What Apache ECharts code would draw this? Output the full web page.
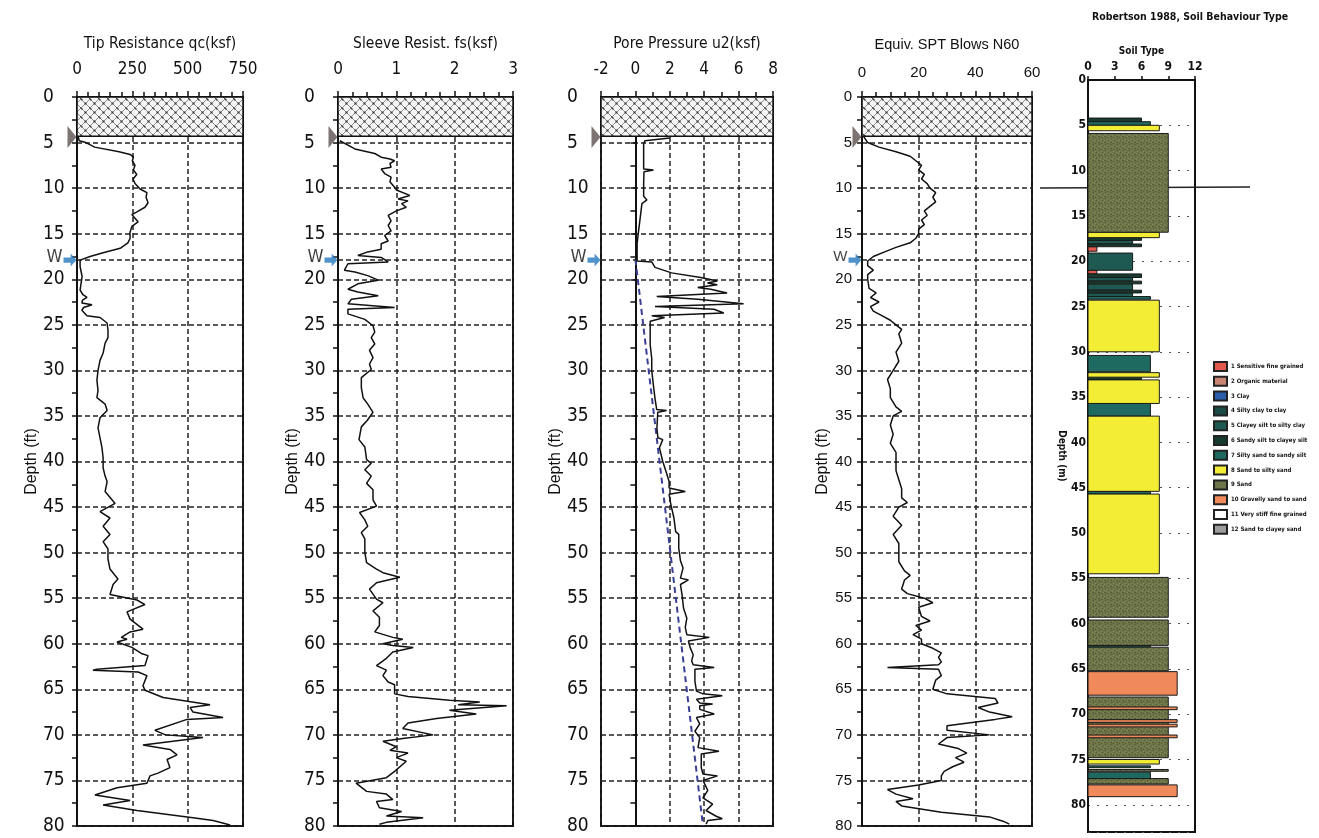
<!DOCTYPE html>
<html>
<head>
<meta charset="utf-8">
<script src="https://cdn.jsdelivr.net/npm/echarts@6/dist/echarts.min.js"></script>
<style>
  html, body { margin: 0; padding: 0; background: #fff; }
  #chart { width: 1319px; height: 838px; }
</style>
</head>
<body>
<div id="chart"></div>
<script>
// CPT log: four depth profiles + Robertson soil behaviour type column

// [depth ft, qc ksf]
var tipResistance = [
  [4.3, 5], [4.8, 10], [5.0, 40], [5.5, 80], [6.0, 190], [6.3, 240], [6.6, 255], [7.0, 250], [7.5, 262],
  [8.0, 255], [8.5, 270], [9.0, 253], [9.5, 262], [10.1, 285], [10.5, 316], [11.0, 312], [11.6, 321],
  [12.1, 307], [12.6, 271], [12.9, 248], [13.3, 262], [13.7, 276], [14.2, 248], [14.9, 239], [15.5, 240],
  [16.0, 230], [16.6, 195], [17.1, 118], [17.5, 59], [17.9, 14], [18.6, 14], [19.7, 23], [20.5, 18],
  [21.2, 14], [21.7, 27], [22.0, 45], [22.3, 25], [22.6, 22], [22.8, 68], [23.1, 30], [23.4, 22],
  [24.0, 45], [24.2, 104], [24.8, 136], [25.6, 140], [26.4, 140], [27.0, 127], [28.1, 118], [28.9, 104],
  [30.0, 95], [31.1, 90], [32.2, 95], [33.0, 90], [33.7, 127], [34.4, 136], [35.2, 104], [36.3, 95],
  [37.4, 104], [38.5, 113], [39.6, 118], [40.7, 118], [41.6, 127], [42.2, 136], [43.3, 127], [44.6, 172],
  [45.5, 104], [46.2, 149], [47.1, 118], [48.0, 149], [48.8, 118], [49.6, 140], [50.7, 140], [51.8, 149],
  [52.9, 185], [53.5, 163], [54.6, 149], [55.2, 271], [55.7, 307], [56.5, 226], [57.3, 240], [58.4, 298],
  [58.7, 240], [59.3, 200], [59.5, 226], [59.8, 181], [60.4, 248], [61.1, 294], [61.3, 321], [62.4, 307],
  [62.8, 90], [62.9, 72], [63.1, 276], [63.5, 316], [64.6, 298], [65.1, 307], [65.9, 389], [66.7, 601],
  [67.0, 511], [67.5, 524], [68.1, 660], [68.3, 497], [69.5, 352], [70.0, 400], [70.3, 569], [71.1, 298],
  [71.6, 420], [72.2, 452], [72.7, 407], [73.6, 420], [74.2, 366], [74.5, 330], [75.3, 316], [75.8, 181],
  [76.6, 81], [77.2, 240], [77.7, 118], [78.3, 271], [79.1, 524], [79.4, 615], [79.9, 692]
];

// [depth ft, fs ksf]
var sleeveResistance = [
  [4.8, 0.03], [5.7, 0.29], [6.2, 0.63], [6.6, 0.74], [6.8, 0.89], [7.0, 0.97], [7.3, 0.89], [7.7, 0.91],
  [7.9, 0.74], [8.4, 0.8], [8.8, 0.91], [9.3, 0.89], [9.9, 0.97], [10.2, 1.0], [10.8, 1.23], [11.2, 1.03],
  [11.4, 1.2], [11.7, 1.09], [12.1, 1.17], [12.5, 1.0], [13.0, 0.86], [13.6, 0.91], [14.1, 0.86],
  [14.7, 0.91], [15.2, 0.8], [15.8, 0.86], [16.1, 0.74], [16.7, 0.74], [17.0, 0.51], [17.4, 0.34],
  [17.6, 0.74], [18.1, 0.86], [18.3, 0.17], [19.0, 0.11], [19.2, 0.29], [19.6, 0.51], [20.1, 0.69],
  [20.5, 0.34], [21.1, 0.17], [21.4, 0.34], [21.8, 0.69], [22.2, 0.23], [22.7, 0.17], [23.1, 0.97],
  [23.3, 0.17], [23.8, 0.17], [24.4, 0.46], [25.1, 0.6], [25.8, 0.63], [26.4, 0.57], [27.1, 0.63],
  [27.8, 0.54], [28.6, 0.6], [29.3, 0.54], [29.9, 0.57], [30.8, 0.4], [31.9, 0.4], [33.0, 0.43],
  [33.7, 0.51], [34.6, 0.6], [35.5, 0.5], [36.2, 0.4], [37.6, 0.36], [38.4, 0.46], [39.8, 0.49],
  [40.2, 0.57], [40.9, 0.46], [41.6, 0.57], [42.4, 0.49], [43.1, 0.6], [44.2, 0.6], [44.9, 0.66],
  [45.6, 0.37], [46.4, 0.46], [47.1, 0.51], [47.8, 0.4], [48.5, 0.46], [50.0, 0.46], [51.1, 0.49],
  [51.8, 0.66], [52.2, 0.77], [52.7, 1.06], [53.3, 0.66], [54.0, 0.54], [55.1, 0.66], [55.5, 0.77],
  [56.4, 0.6], [57.1, 0.71], [58.0, 0.71], [58.7, 0.63], [59.3, 0.94], [59.5, 1.11], [60.0, 0.77],
  [60.2, 0.94], [60.4, 1.29], [60.9, 0.94], [61.6, 0.83], [62.4, 0.66], [62.9, 0.83], [63.5, 0.77],
  [64.2, 0.86], [64.5, 0.97], [65.5, 0.97], [65.8, 1.2], [66.2, 1.91], [66.4, 2.43], [66.7, 2.06],
  [66.8, 2.89], [67.3, 1.91], [67.7, 2.37], [68.2, 1.69], [68.7, 1.2], [69.3, 1.11], [70.0, 1.63],
  [70.4, 1.11], [70.7, 0.77], [71.3, 1.0], [71.7, 0.89], [72.0, 1.2], [72.5, 1.0], [72.9, 1.17],
  [74.0, 0.97], [74.7, 0.83], [75.3, 0.31], [76.2, 0.49], [76.5, 0.83], [77.1, 0.94], [77.3, 0.66],
  [78.0, 0.71], [78.4, 1.09], [78.9, 0.83], [79.1, 1.46], [79.6, 0.83], [79.8, 0.71]
];

// [depth ft, u2 ksf]
var porePressure = [
  [4.5, 2.0], [4.8, 0.55], [5.2, 0.48], [7.9, 0.48], [8.0, 1.05], [8.2, 0.5], [9.4, 0.48], [10.9, 0.48],
  [11.3, 0.67], [11.7, 0.38], [13.1, 0.29], [14.6, 0.19], [16.1, 0.1], [18.0, 0.1], [18.1, 0.95],
  [18.7, 1.14], [19.3, 2.1], [19.8, 3.8], [20.2, 4.76], [20.4, 4.19], [20.6, 4.76], [20.9, 3.62],
  [21.1, 4.38], [21.5, 5.33], [21.9, 1.24], [22.2, 3.62], [22.7, 6.29], [23.0, 1.14], [23.3, 4.57],
  [23.7, 5.14], [24.0, 0.95], [24.2, 1.7], [24.6, 0.86], [25.7, 0.86], [27.2, 0.86], [28.7, 0.95],
  [30.0, 0.95], [30.2, 1.05], [31.7, 1.05], [33.1, 1.14], [34.3, 1.24], [34.4, 1.81], [34.6, 1.3],
  [36.4, 1.25], [37.4, 1.31], [37.6, 1.59], [38.5, 1.4], [40.0, 1.59], [41.1, 1.78], [42.2, 1.96],
  [42.9, 1.96], [43.3, 2.9], [43.6, 1.96], [44.7, 2.06], [46.2, 2.24], [47.7, 2.34], [48.0, 2.52],
  [49.5, 2.52], [50.9, 2.62], [51.7, 2.77], [52.8, 2.62], [53.0, 3.08], [53.5, 2.62], [54.6, 2.71],
  [56.1, 2.8], [57.2, 2.99], [58.2, 2.9], [59.0, 2.99], [59.3, 4.3], [59.7, 3.08], [60.4, 3.18],
  [61.2, 3.36], [61.9, 3.27], [62.3, 3.36], [62.6, 4.58], [62.8, 3.46], [64.1, 3.46], [65.2, 3.55],
  [65.5, 3.93], [65.7, 5.05], [66.1, 3.55], [66.5, 3.74], [66.6, 4.49], [66.8, 3.74], [67.2, 3.74],
  [67.7, 4.58], [68.1, 3.55], [68.8, 3.74], [69.6, 3.46], [70.3, 3.74], [71.4, 3.64], [71.8, 4.86],
  [72.1, 3.83], [73.6, 3.83], [74.3, 3.93], [74.5, 4.77], [75.0, 3.93], [76.1, 4.21], [76.9, 3.93],
  [77.6, 4.49], [78.3, 4.11], [78.9, 4.67], [79.2, 5.05], [79.4, 4.21], [79.8, 4.11]
];

// hydrostatic line u0: [depth ft, ksf]
var hydrostatic = [[17.8, 0], [80, 3.93]];

// [depth ft, N60]
var sptN60 = [
  [4.3, 0.5], [5.0, 2], [5.5, 6], [6.0, 12], [6.5, 17], [7.0, 19], [7.5, 21], [8.0, 20], [8.5, 22],
  [9.0, 21], [9.5, 23], [10.0, 24], [10.5, 26], [11.0, 25], [11.5, 26], [12.0, 24], [12.5, 22], [13.0, 23],
  [13.5, 21], [14.0, 22], [14.5, 20], [15.0, 20], [15.5, 19], [16.0, 17], [16.5, 12], [17.0, 8], [17.5, 4],
  [18.0, 2], [18.5, 2], [19.0, 4], [19.5, 2], [20.0, 2], [21.0, 2.5], [21.5, 5], [22.0, 3], [22.5, 6],
  [23.0, 3], [23.5, 4], [24.0, 7], [24.5, 10], [25.0, 12], [25.5, 14], [26.0, 13], [27.0, 14], [28.0, 12],
  [29.0, 13], [30.0, 11], [31.0, 9], [32.0, 10], [33.0, 10], [34.0, 12], [34.5, 14], [35.0, 11], [36.0, 10],
  [37.0, 11], [38.0, 10], [39.0, 12], [40.0, 12], [41.0, 12], [42.0, 13], [43.0, 14], [44.0, 14],
  [44.5, 16], [45.0, 13], [46.0, 11], [47.0, 14], [48.0, 11], [49.0, 13], [50.0, 13], [51.0, 13],
  [52.0, 15], [52.5, 17], [53.0, 15], [54.0, 14], [54.5, 16], [55.0, 22], [55.5, 25], [56.0, 20],
  [57.0, 21], [57.5, 24], [58.0, 19], [58.5, 21], [59.0, 18], [59.5, 21], [60.0, 21], [60.5, 25],
  [61.0, 28], [61.5, 27], [62.0, 28], [62.3, 27], [62.6, 9], [62.8, 27], [63.5, 28], [64.0, 26],
  [65.0, 25], [65.5, 30], [66.0, 47], [66.5, 48], [67.0, 41], [67.5, 45], [68.0, 53], [68.3, 47],
  [69.0, 30], [69.5, 30], [70.0, 45], [70.3, 30], [71.0, 27], [71.5, 34], [72.0, 37], [72.5, 33],
  [73.0, 36], [73.5, 32], [74.0, 29], [74.5, 28], [75.0, 28], [75.5, 20], [76.0, 9], [76.5, 12],
  [77.0, 18], [77.3, 12], [77.8, 14], [78.5, 28], [79.0, 45], [79.5, 50], [79.8, 52]
];

// soil behaviour type layers
var soilTop    = [4.2, 4.6, 5.0, 5.9, 16.8, 17.4, 17.7, 18.1, 18.4, 19.1, 21.0, 21.4, 21.8, 22.2, 22.5, 23.2, 23.5, 23.9,
                  24.3, 30.4, 32.3, 32.8, 33.1, 35.7, 37.1, 45.4, 45.7, 54.9, 59.6, 62.4, 62.6, 65.3, 68.1,
                  69.2, 70.6, 71.1, 72.3, 75.0, 75.7, 76.1, 76.4, 77.1, 77.8];
var soilBottom = [4.6, 5.0, 5.6, 16.8, 17.4, 17.7, 18.1, 18.4, 18.9, 21.0, 21.4, 21.8, 22.2, 22.5, 23.2, 23.5, 23.9, 24.2,
                  30.0, 32.2, 32.8, 33.1, 35.7, 37.1, 45.4, 45.7, 54.5, 59.3, 62.4, 62.6, 65.2, 67.9, 74.8,
                  69.5, 70.9, 71.4, 72.6, 75.5, 75.9, 76.3, 77.1, 77.7, 79.1];
var soilType   = [6, 7, 8, 9, 8, 6, 5, 6, 1, 5, 1, 6, 5, 6, 5, 6, 5, 7,
                  8, 7, 8, 6, 8, 7, 8, 7, 8, 9, 9, 7, 9, 10, 9,
                  10, 10, 10, 10, 8, 7, 9, 7, 9, 10];

var soilNames = ['1 Sensitive fine grained', '2 Organic material', '3 Clay', '4 Silty clay to clay',
  '5 Clayey silt to silty clay', '6 Sandy silt to clayey silt', '7 Silty sand to sandy silt',
  '8 Sand to silty sand', '9 Sand', '10 Gravelly sand to sand', '11 Very stiff fine grained',
  '12 Sand to clayey sand'];
var soilColors = ['#e3584d', '#c98473', '#2a5ea8', '#1c4a45', '#1f5a52', '#173b2f', '#1f6a60',
  '#f3ee35', '#6d7447', '#f08a5a', '#ffffff', '#9c9c9c'];

var waterDepth = 17.9;
var predrillDepth = 4.3;

var NARROW = "'Liberation Sans Narrow', 'DejaVu Sans Condensed', sans-serif";
var ARIAL = "'Liberation Sans', Arial, sans-serif";

// stippled cross-hatch for the pre-drilled zone
function hatchPattern() {
  var c = document.createElement('canvas');
  c.width = 9; c.height = 9;
  var g = c.getContext('2d');
  g.fillStyle = '#f4f4f4';
  g.fillRect(0, 0, 9, 9);
  g.strokeStyle = '#8c8c8c';
  g.lineWidth = 1;
  g.beginPath();
  g.moveTo(0, 0); g.lineTo(9, 9);
  g.moveTo(9, 0); g.lineTo(0, 9);
  g.stroke();
  g.fillStyle = '#3c3c3c';
  g.fillRect(3.5, 3.5, 2, 2);
  g.fillRect(0, 0, 1.5, 1.5);
  g.fillRect(8, 8, 1, 1);
  return c;
}
// mottled texture for the olive (sand) blocks
function mottle(base, dark, light) {
  var c = document.createElement('canvas');
  c.width = 6; c.height = 6;
  var g = c.getContext('2d');
  g.fillStyle = base;
  g.fillRect(0, 0, 6, 6);
  g.fillStyle = dark;
  g.fillRect(1, 0, 1, 1); g.fillRect(4, 2, 1, 1); g.fillRect(0, 4, 2, 1); g.fillRect(3, 5, 1, 1);
  g.fillStyle = light;
  g.fillRect(3, 1, 1, 1); g.fillRect(0, 2, 1, 1); g.fillRect(5, 4, 1, 1); g.fillRect(2, 3, 1, 1);
  return c;
}
var hatch = hatchPattern();
var oliveTexture = mottle('#6d7447', '#55593a', '#858c5a');

var panels = [
  { left: 77, width: 166, min: 0, max: 750, interval: 250, minor: 5, name: 'Tip Resistance qc(ksf)', data: tipResistance, font: NARROW, depthGap: 34 },
  { left: 338, width: 175, min: 0, max: 3, interval: 1, minor: 4, name: 'Sleeve Resist. fs(ksf)', data: sleeveResistance, font: NARROW, depthGap: 32 },
  { left: 601, width: 172, min: -2, max: 8, interval: 2, minor: 2, name: 'Pore Pressure u2(ksf)', data: porePressure, font: NARROW, depthGap: 31 },
  { left: 862, width: 170, min: 0, max: 60, interval: 20, minor: 4, name: 'Equiv. SPT Blows N60', data: sptN60, font: ARIAL, depthGap: 31 }
];

var grid = [], xAxis = [], yAxis = [], series = [];
var dashed = { type: [5, 3], color: '#222', width: 1.5 };

panels.forEach(function (p, i) {
  var narrow = p.font === NARROW;
  grid.push({ left: p.left, top: 97, width: p.width, height: 729, show: true, borderColor: '#111', borderWidth: 2 });
  xAxis.push({
    gridIndex: i, type: 'value', position: 'top', min: p.min, max: p.max, interval: p.interval,
    name: p.name, nameLocation: 'middle', nameGap: narrow ? 45 : 45,
    nameTextStyle: { fontFamily: p.font, fontSize: narrow ? 15.5 : 14.5, color: '#111' },
    axisLine: { show: true, lineStyle: { color: '#111', width: 2 } },
    axisTick: { show: true, length: 6, lineStyle: { color: '#111', width: 1.5 } },
    minorTick: { show: true, splitNumber: p.minor, length: 5, lineStyle: { color: '#111', width: 1.5 } },
    axisLabel: { fontFamily: p.font, fontSize: narrow ? 17 : 15, color: '#111', margin: narrow ? 19 : 17 },
    splitLine: { show: true, lineStyle: dashed }
  });
  yAxis.push({
    gridIndex: i, type: 'value', inverse: true, min: 0, max: 80, interval: 5,
    name: 'Depth (ft)', nameLocation: 'middle', nameGap: p.depthGap, nameRotate: 90,
    nameTextStyle: { fontFamily: ARIAL, fontSize: 16, color: '#111' },
    axisLine: { show: true, lineStyle: { color: '#111', width: 2 } },
    axisTick: { show: true, length: 5, lineStyle: { color: '#111', width: 1.5 } },
    minorTick: { show: true, splitNumber: 2, length: 5, lineStyle: { color: '#111', width: 1.5 } },
    axisLabel: narrow
      ? { fontFamily: NARROW, fontSize: 19, color: '#111', margin: 34, align: 'left' }
      : { fontFamily: ARIAL, fontSize: 15, color: '#111', margin: 10 },
    splitLine: { show: true, lineStyle: dashed }
  });
  series.push({
    type: 'line', xAxisIndex: i, yAxisIndex: i, showSymbol: false, symbol: 'none',
    lineStyle: { color: '#111', width: 1.5 },
    data: p.data.map(function (d) { return [d[1], d[0]]; }),
    markArea: {
      silent: true,
      itemStyle: { color: { image: hatch, repeat: 'repeat' }, borderColor: '#111', borderWidth: 1.5 },
      data: [[{ yAxis: 0 }, { yAxis: predrillDepth }]]
    },
    markLine: {
      silent: true, symbol: 'none', label: { show: false },
      lineStyle: dashed,
      data: [{ yAxis: waterDepth }]
    },
    z: 3
  });
  // cone seating marker and groundwater arrow on the depth axis
  series.push({
    type: 'scatter', xAxisIndex: i, yAxisIndex: i, silent: true, z: 5,
    data: [
      { value: [p.min, predrillDepth + 0.1], symbol: 'path://M0,0 L10,12 L0,24 Z', symbolSize: [9, 22],
        symbolOffset: [-5, 0], itemStyle: { color: '#5e5050' } },
      { value: [p.min, waterDepth], symbol: 'path://M0,3 L6,3 L6,0 L11,5 L6,10 L6,7 L0,7 Z', symbolSize: [13, 13],
        symbolOffset: [-7, 0], itemStyle: { color: '#2478bd' },
        label: { show: true, formatter: 'W', position: 'left', distance: 1, offset: [0, -3],
          fontFamily: p.font, fontSize: narrow ? 18 : 15, color: '#111' } }
    ]
  });
});

// hydrostatic pressure line on pore pressure panel
series.push({
  type: 'line', xAxisIndex: 2, yAxisIndex: 2, showSymbol: false, symbol: 'none', z: 2,
  lineStyle: { color: '#3a3f96', width: 2, type: [6, 4] },
  data: hydrostatic.map(function (d) { return [d[1], d[0]]; })
});

// soil behaviour type column
grid.push({ left: 1088, top: 80, width: 107, height: 752, show: true, borderColor: '#111', borderWidth: 2 });
xAxis.push({
  gridIndex: 4, type: 'value', position: 'top', min: 0, max: 12, interval: 3,
  name: 'Soil Type', nameLocation: 'middle', nameGap: 23,
  nameTextStyle: { fontFamily: NARROW, fontSize: 10, fontWeight: 'bold', color: '#111' },
  axisLine: { show: true, lineStyle: { color: '#111', width: 2 } },
  axisTick: { show: true, length: 4, lineStyle: { color: '#111', width: 1.5 } },
  axisLabel: { fontFamily: NARROW, fontSize: 12, fontWeight: 'bold', color: '#111', margin: 7 },
  splitLine: { show: false }
});
yAxis.push({
  gridIndex: 4, type: 'value', inverse: true, min: 0, max: 83, interval: 5,
  name: 'Depth (m)', nameLocation: 'middle', nameGap: 16, nameRotate: -90,
  nameTextStyle: { fontFamily: NARROW, fontSize: 10, fontWeight: 'bold', color: '#111' },
  axisLine: { show: true, lineStyle: { color: '#111', width: 2 } },
  axisTick: { show: false },
  axisLabel: { fontFamily: NARROW, fontSize: 12, fontWeight: 'bold', color: '#111', margin: 2,
    formatter: function (v) { return v <= 80 ? v : ''; } },
  splitLine: { show: true, lineStyle: { type: [2, 7], color: '#555', width: 1 } }
});

soilNames.forEach(function (name, k) {
  var layers = [];
  soilType.forEach(function (t, j) {
    if (t === k + 1) layers.push([soilTop[j], soilBottom[j], t]);
  });
  var fill = k === 8 ? { image: oliveTexture, repeat: 'repeat' } : soilColors[k];
  series.push({
    type: 'custom', name: name, xAxisIndex: 4, yAxisIndex: 4, silent: true,
    itemStyle: { color: soilColors[k], borderColor: '#222', borderWidth: 1 },
    encode: { x: 2, y: [0, 1] },
    data: layers,
    renderItem: function (params, api) {
      var a = api.coord([0, api.value(0)]);
      var b = api.coord([api.value(2), api.value(1)]);
      return {
        type: 'rect',
        shape: { x: a[0], y: a[1], width: b[0] - a[0], height: b[1] - a[1] },
        style: { fill: fill, stroke: '#1a1a1a', lineWidth: 1 }
      };
    }
  });
});

var chart = echarts.init(document.getElementById('chart'), null, { renderer: 'canvas' });
chart.setOption({
  animation: false,
  backgroundColor: '#fff',
  title: {
    text: 'Robertson 1988, Soil Behaviour Type', left: 1185, top: 7, textAlign: 'center',
    textStyle: { fontFamily: NARROW, fontSize: 10.5, fontWeight: 'bold', color: '#111' }
  },
  legend: {
    data: soilNames, orient: 'vertical', left: 1208, top: 356, selectedMode: false,
    icon: 'rect', itemWidth: 13, itemHeight: 9, itemGap: 3.8,
    textStyle: { fontFamily: NARROW, fontSize: 6, fontWeight: 'bold', color: '#111', padding: [0, 0, 0, -1] }
  },
  grid: grid,
  xAxis: xAxis,
  yAxis: yAxis,
  series: series,
  graphic: [
    // hand-drawn pen stroke across the soil column
    { type: 'line', silent: true, shape: { x1: 1040, y1: 188, x2: 1250, y2: 187 }, style: { stroke: '#222', lineWidth: 1.5 } }
  ]
});
</script>
</body>
</html>
